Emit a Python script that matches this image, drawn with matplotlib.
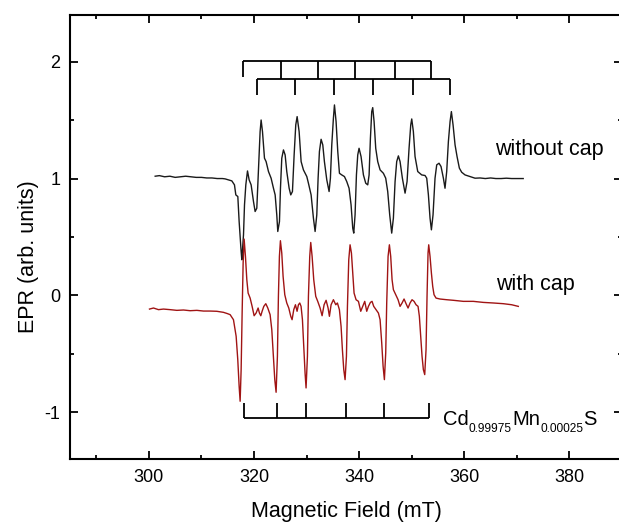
import matplotlib
matplotlib.use('Agg')
import matplotlib.pyplot as plt
from matplotlib.ticker import MultipleLocator

plt.rcParams['font.family'] = ['Liberation Sans', 'DejaVu Sans']
plt.rcParams['axes.unicode_minus'] = False

# EPR spectrum, uncapped sample (offset by +1)
field_nocap = [301.2, 302.0, 303.0, 304.0, 305.0, 306.0, 307.0, 308.0, 309.0, 310.0,
               311.0, 312.0, 313.0, 314.0, 314.51, 315.78, 316.28, 316.54, 316.92, 317.17,
               317.55, 317.68, 318.0, 318.19, 318.44, 318.76, 319.07, 319.45, 319.90, 320.21,
               320.53, 320.85, 321.16, 321.35, 321.61, 321.99, 322.30, 322.75, 323.25, 323.70,
               324.02, 324.33, 324.52, 324.84, 325.03, 325.28, 325.60, 325.92, 326.23, 326.68,
               326.99, 327.31, 327.63, 327.94, 328.20, 328.58, 328.96, 329.40, 330.04, 330.35,
               330.86, 331.30, 331.62, 331.94, 332.19, 332.44, 332.76, 333.08, 333.39, 333.84,
               334.28, 334.53, 334.79, 335.10, 335.30, 335.61, 335.93, 336.25, 336.69, 337.20,
               337.64, 338.08, 338.46, 338.78, 338.97, 339.22, 339.48, 339.73, 339.98, 340.36,
               340.81, 341.25, 341.63, 341.89, 342.14, 342.39, 342.58, 342.84, 343.15, 343.53,
               343.98, 344.61, 345.05, 345.43, 345.81, 346.19, 346.51, 346.83, 347.14, 347.46,
               347.78, 348.22, 348.73, 349.11, 349.49, 349.81, 350.0, 350.31, 350.63, 351.14,
               351.90, 352.53, 352.85, 353.17, 353.48, 353.74, 354.05, 354.43, 354.75, 355.19,
               355.57, 356.02, 356.33, 356.65, 356.97, 357.29, 357.54, 357.86, 358.24, 358.62,
               359.06, 359.50, 360.14, 361.09, 362.04, 363.0, 364.0, 365.0, 366.0, 367.0,
               368.0, 369.0, 370.0, 371.2]
epr_nocap = [1.02, 1.025, 1.015, 1.02, 1.01, 1.015, 1.02, 1.015, 1.01, 1.01,
             1.005, 1.005, 1.0, 1.0, 0.997, 0.980, 0.946, 0.860, 0.846, 0.632,
             0.376, 0.305, 0.519, 0.775, 0.946, 1.065, 0.989, 0.946, 0.803, 0.718,
             0.746, 1.088, 1.402, 1.501, 1.402, 1.174, 1.145, 1.060, 1.003, 0.917,
             0.860, 0.689, 0.547, 0.632, 0.917, 1.174, 1.245, 1.202, 1.060, 0.917,
             0.860, 0.889, 1.202, 1.459, 1.530, 1.402, 1.145, 1.074, 1.017, 0.960,
             0.860, 0.661, 0.547, 0.689, 1.003, 1.231, 1.336, 1.288, 1.145, 0.989,
             0.889, 1.003, 1.288, 1.516, 1.630, 1.487, 1.231, 1.045, 1.031, 1.017,
             0.974, 0.917, 0.775, 0.575, 0.533, 0.689, 1.031, 1.202, 1.259, 1.188,
             1.031, 0.960, 0.946, 1.031, 1.345, 1.573, 1.607, 1.487, 1.259, 1.145,
             1.074, 1.045, 1.003, 0.889, 0.689, 0.533, 0.661, 0.974, 1.145, 1.194,
             1.145, 1.003, 0.875, 0.974, 1.259, 1.459, 1.510, 1.402, 1.188, 1.060,
             1.031, 1.026, 1.003, 0.860, 0.661, 0.561, 0.689, 1.003, 1.117, 1.131,
             1.103, 1.003, 0.917, 1.060, 1.316, 1.487, 1.573, 1.459, 1.288, 1.188,
             1.089, 1.054, 1.031, 1.017, 1.003, 1.005, 1.0, 1.005, 1.0, 1.0,
             1.003, 1.0, 1.0, 1.0]

# EPR spectrum, capped sample
field_cap = [300.12, 300.88, 301.83, 302.78, 304.05, 305.32, 306.58, 307.85, 309.12, 310.39,
             311.65, 312.92, 314.19, 314.95, 315.46, 316.09, 316.60, 316.91, 317.17, 317.36,
             317.55, 317.74, 317.93, 318.12, 318.37, 318.63, 318.88, 319.26, 319.64, 320.02,
             320.40, 320.78, 321.03, 321.29, 321.54, 321.86, 322.24, 322.62, 323.06, 323.38,
             323.69, 323.95, 324.20, 324.45, 324.64, 324.83, 325.02, 325.28, 325.53, 325.85,
             326.23, 326.61, 326.99, 327.24, 327.56, 327.88, 328.19, 328.45, 328.70, 328.95,
             329.21, 329.46, 329.71, 329.90, 330.16, 330.35, 330.60, 330.79, 331.05, 331.36,
             331.74, 332.12, 332.57, 332.95, 333.33, 333.71, 334.09, 334.34, 334.66, 335.10,
             335.55, 335.86, 336.24, 336.56, 336.81, 337.07, 337.32, 337.58, 337.77, 338.02,
             338.27, 338.53, 338.78, 339.03, 339.41, 339.86, 340.30, 340.68, 341.06, 341.44,
             341.76, 342.14, 342.45, 342.77, 343.22, 343.66, 343.98, 344.29, 344.55, 344.80,
             345.05, 345.24, 345.50, 345.75, 346.00, 346.26, 346.51, 346.95, 347.40, 347.78,
             348.16, 348.54, 348.92, 349.30, 349.68, 350.06, 350.44, 350.82, 351.20, 351.45,
             351.71, 351.96, 352.21, 352.47, 352.72, 352.91, 353.10, 353.23, 353.48, 353.74,
             353.99, 354.24, 354.62, 355.38, 356.65, 357.92, 359.82, 361.72, 363.62, 365.52,
             367.42, 369.01, 370.27]
epr_cap = [-0.117, -0.108, -0.122, -0.117, -0.122, -0.128, -0.125, -0.131, -0.128, -0.134,
           -0.134, -0.136, -0.145, -0.156, -0.165, -0.208, -0.350, -0.550, -0.778, -0.906,
           -0.635, -0.151, 0.277, 0.482, 0.334, 0.134, 0.020, -0.023, -0.094, -0.174,
           -0.151, -0.108, -0.151, -0.174, -0.136, -0.094, -0.071, -0.108, -0.165, -0.293,
           -0.521, -0.721, -0.829, -0.521, -0.008, 0.334, 0.468, 0.362, 0.163, 0.006,
           -0.065, -0.108, -0.179, -0.208, -0.122, -0.080, -0.136, -0.080, -0.065, -0.094,
           -0.208, -0.436, -0.664, -0.792, -0.521, -0.008, 0.334, 0.453, 0.334, 0.134,
           -0.008, -0.051, -0.108, -0.174, -0.080, -0.042, -0.108, -0.179, -0.080, -0.037,
           -0.080, -0.065, -0.122, -0.265, -0.464, -0.635, -0.721, -0.521, -0.094, 0.305,
           0.433, 0.362, 0.191, 0.020, -0.037, -0.051, -0.136, -0.094, -0.051, -0.136,
           -0.094, -0.060, -0.051, -0.094, -0.122, -0.151, -0.208, -0.407, -0.606, -0.721,
           -0.493, -0.065, 0.334, 0.433, 0.334, 0.134, 0.049, 0.006, -0.037, -0.094,
           -0.065, -0.031, -0.071, -0.108, -0.065, -0.037, -0.051, -0.080, -0.094, -0.179,
           -0.350, -0.521, -0.635, -0.678, -0.464, -0.008, 0.362, 0.433, 0.334, 0.191,
           0.077, 0.006, -0.023, -0.031, -0.037, -0.042, -0.051, -0.051, -0.060, -0.065,
           -0.071, -0.080, -0.094]

# hyperfine stick diagrams
comb_upper = [317.9, 325.2, 332.1, 339.2, 346.8, 353.7]
comb_lower = [320.6, 327.8, 335.2, 342.6, 350.2, 357.3]
comb_bottom = [318.0, 324.4, 329.9, 337.5, 344.7, 353.3]

fig = plt.figure(figsize=(6.19, 5.23), dpi=100)
ax = fig.add_axes([0.1131, 0.1224, 0.8918, 0.849])

ax.plot(field_nocap, epr_nocap, color='#1a1a1a', lw=1.0)
ax.plot(field_cap, epr_cap, color='#a01414', lw=1.0)

comb_kw = dict(color='black', lw=1.3)
# upper comb, hanging from y=2.01
ax.hlines(2.01, comb_upper[0], comb_upper[-1], **comb_kw)
ax.vlines(comb_upper[0], 1.87, 2.01, **comb_kw)
ax.vlines(comb_upper[1:], 1.85, 2.01, **comb_kw)
# second comb, hanging from y=1.85
ax.hlines(1.85, comb_lower[0], comb_lower[-1], **comb_kw)
ax.vlines(comb_lower, 1.715, 1.85, **comb_kw)
# bottom comb, ticks pointing up
ax.hlines(-1.045, comb_bottom[0], comb_bottom[-1], **comb_kw)
ax.vlines(comb_bottom, -1.045, -0.917, **comb_kw)

ax.text(365.8, 1.203, 'without cap', fontsize=15.5, va='baseline')
ax.text(366.0, 0.049, 'with cap', fontsize=15.5, va='baseline')

# Cd0.99975Mn0.00025S with small subscripts
cd = ax.text(355.9, -1.105, 'Cd', fontsize=14.5, va='baseline')
sub1 = ax.annotate('0.99975', xy=(1, 0), xycoords=cd, xytext=(0.3, -2.6),
                   textcoords='offset points', fontsize=8.6, va='baseline')
mn = ax.annotate('Mn', xy=(1, 0), xycoords=(sub1, cd), fontsize=14.5, va='bottom')
sub2 = ax.annotate('0.00025', xy=(1, 0), xycoords=mn, xytext=(0.3, -2.6),
                   textcoords='offset points', fontsize=8.6, va='baseline')
ax.annotate('S', xy=(1, 0), xycoords=(sub2, cd), fontsize=14.5, va='bottom')

ax.set_xlim(285, 390)
ax.set_ylim(-1.4, 2.4)
ax.xaxis.set_major_locator(MultipleLocator(20))
ax.xaxis.set_minor_locator(MultipleLocator(10))
ax.yaxis.set_major_locator(MultipleLocator(1))
ax.yaxis.set_minor_locator(MultipleLocator(0.5))
ax.tick_params(which='both', direction='in', top=True, right=True, width=1.3,
               labelsize=13, pad=7)
ax.tick_params(which='major', length=6)
ax.tick_params(which='minor', length=3)
for sp in ax.spines.values():
    sp.set_linewidth(1.5)

ax.set_xlabel('Magnetic Field (mT)', fontsize=15.5)
ax.set_ylabel('EPR (arb. units)', fontsize=15.5)
ax.xaxis.set_label_coords(0.501, -0.095)
ax.yaxis.set_label_coords(-0.057, 0.456)

fig.savefig('out.png', dpi=100)
